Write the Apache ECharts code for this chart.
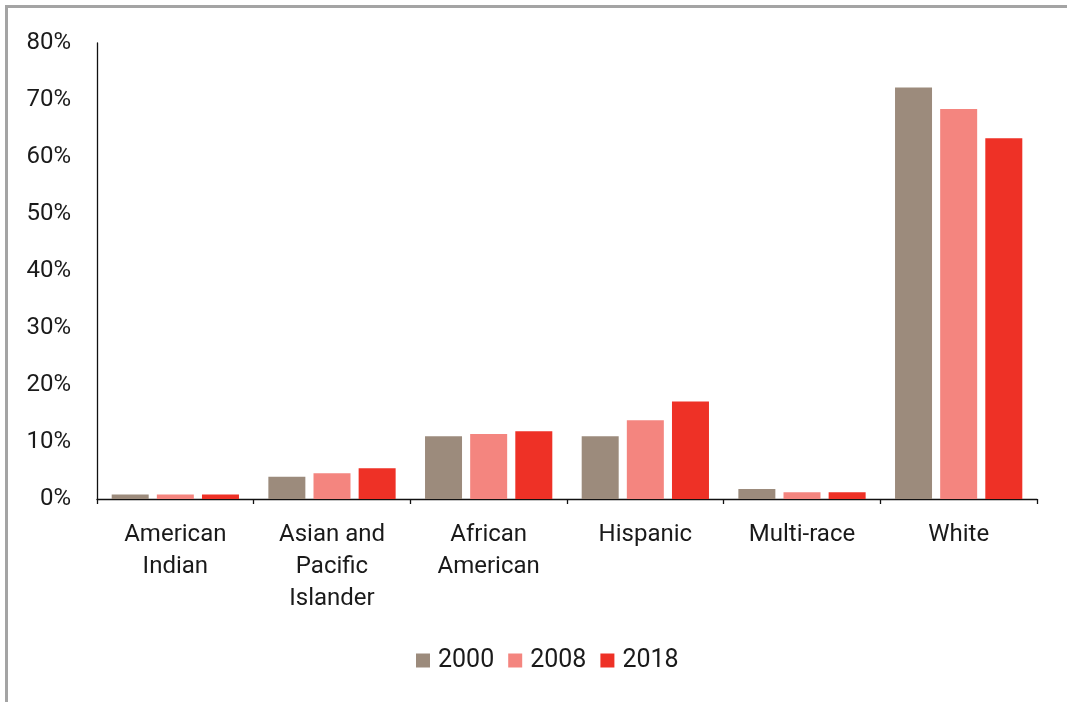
<!DOCTYPE html>
<html>
<head>
<meta charset="utf-8">
<script src="https://cdn.jsdelivr.net/npm/echarts@6/dist/echarts.min.js"></script>
<style>
  html, body { margin: 0; padding: 0; background: #fff; }
  #chart { width: 1067px; height: 702px; }
</style>
</head>
<body>
<div id="chart"></div>
<script>
// Share of population by race/ethnicity (percent)
const categories = ['American\nIndian', 'Asian and\nPacific\nIslander', 'African\nAmerican', 'Hispanic', 'Multi-race', 'White'];
const years = ['2000', '2008', '2018'];
const values2000 = [0.8, 3.9, 11.0, 11.0, 1.75, 72.2];
const values2008 = [0.8, 4.5, 11.4, 13.8, 1.2, 68.4];
const values2018 = [0.8, 5.4, 11.9, 17.1, 1.2, 63.3];
const yTicks = { min: 0, max: 80, step: 10 };

const colors = ['#9c8b7c', '#f4857f', '#ee3126'];
const seriesValues = [values2000, values2008, values2018];
const font = 'Roboto, "Liberation Sans", sans-serif';

const chart = echarts.init(document.getElementById('chart'), null, { renderer: 'canvas' });
chart.setOption({
  animation: false,
  color: colors,
  textStyle: { fontFamily: font },
  graphic: [
    { type: 'line', shape: { x1: 5, y1: 6.5, x2: 1067, y2: 6.5 }, style: { stroke: '#a4a4a4', lineWidth: 3 } },
    { type: 'line', shape: { x1: 6.5, y1: 5, x2: 6.5, y2: 702 }, style: { stroke: '#a4a4a4', lineWidth: 3 } }
  ],
  grid: { left: 97, right: 30, top: 43, bottom: 203, containLabel: false },
  legend: {
    data: years,
    top: 643,
    left: 411,
    icon: 'rect',
    itemWidth: 14,
    itemHeight: 14,
    itemGap: 14,
    textStyle: { fontSize: 25, color: '#1a1a1a', fontFamily: font, padding: [0, 0, 0, 3] }
  },
  xAxis: {
    type: 'category',
    data: categories,
    boundaryGap: true,
    axisLine: { lineStyle: { color: '#111', width: 1.3 } },
    axisTick: { show: true, length: 5, lineStyle: { color: '#111', width: 1.3 } },
    axisLabel: {
      interval: 0,
      margin: 20,
      fontSize: 24,
      lineHeight: 32,
      color: '#1a1a1a',
      fontFamily: font
    }
  },
  yAxis: {
    type: 'value',
    min: yTicks.min,
    max: yTicks.max,
    interval: yTicks.step,
    axisLine: { show: true, lineStyle: { color: '#111', width: 1.3 } },
    axisTick: { show: false },
    splitLine: { show: false },
    axisLabel: {
      formatter: '{value}%',
      margin: 26,
      fontSize: 24,
      color: '#1a1a1a',
      fontFamily: font
    }
  },
  series: years.map((y, i) => ({
    name: y,
    type: 'bar',
    data: seriesValues[i],
    barWidth: 37,
    barGap: '22%',
    itemStyle: { color: colors[i] }
  }))
});
</script>
</body>
</html>
